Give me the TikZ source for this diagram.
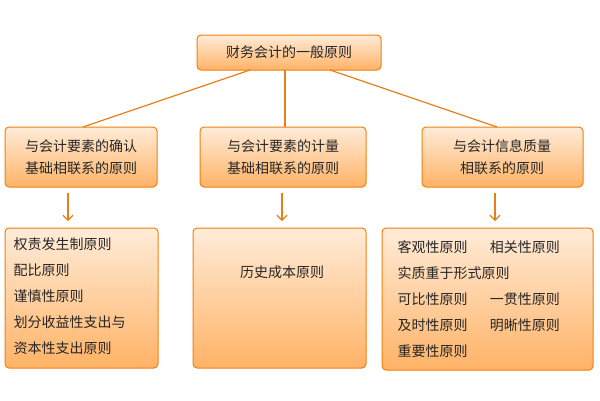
\documentclass[tikz,border=0pt]{standalone}
\usepackage{fontspec}
\setmainfont{Noto Sans CJK SC}
\usetikzlibrary{arrows.meta}
\begin{document}
\begin{tikzpicture}[x=1pt,y=-1pt,
 box/.style={draw=orange!80!brown,line width=1pt,rounded corners=4pt,top color=orange!15,bottom color=orange!60,inner sep=0pt},
 con/.style={draw=orange!60!brown,line width=1.2pt},
 arr/.style={con,->,>={Straight Barb[length=5pt]}}]
\useasboundingbox[fill=white] (0,0) rectangle (600,400);
\tikzset{every node/.style={font=\fontsize{14pt}{22pt}\selectfont,text=black!85}}
\path[box] (197,35) rectangle (381,70); \node (t) at (289,52) {财务会计的一般原则};
\path[box] (5,127) rectangle (157,187); \node[align=center] (a) at (81,157) {与会计要素的确认\\基础相联系的原则};
\path[box] (200,127) rectangle (366,187); \node[align=center] (b) at (283,157) {与会计要素的计量\\基础相联系的原则};
\path[box] (422,127) rectangle (583,187); \node[align=center] (c) at (502,157) {与会计信息质量\\相联系的原则};
\path[box] (5,228) rectangle (158,368);
\node[align=left,anchor=north west,font=\fontsize{14pt}{26pt}\selectfont] (d) at (10,234) {权责发生制原则\\配比原则\\谨慎性原则\\划分收益性支出与\\资本性支出原则};
\path[box] (193,228) rectangle (366,368); \node (e) at (282,272) {历史成本原则};
\path[box] (382,228) rectangle (593,370);
\node[align=left,anchor=north west,font=\fontsize{14pt}{26pt}\selectfont] (f) at (394,237) {客观性原则\hspace{1.6em}相关性原则\\实质重于形式原则\\可比性原则\hspace{1.6em}一贯性原则\\及时性原则\hspace{1.6em}明晰性原则\\重要性原则};
\coordinate (t1) at (250,70); \coordinate (a1) at (83,127);
\coordinate (t2) at (285,70); \coordinate (b1) at (285,127);
\coordinate (t3) at (330,70); \coordinate (c1) at (497,127);
\draw[con] (t1) -- (a1); \draw[con] (t2) -- (b1); \draw[con] (t3) -- (c1);
\coordinate (a2) at (68,193); \coordinate (a3) at (68,221);
\coordinate (b2) at (282,193); \coordinate (b3) at (282,221);
\coordinate (c2) at (495,193); \coordinate (c3) at (495,221);
\draw[arr] (a2) -- (a3); \draw[arr] (b2) -- (b3); \draw[arr] (c2) -- (c3);
\end{tikzpicture}
\end{document}
